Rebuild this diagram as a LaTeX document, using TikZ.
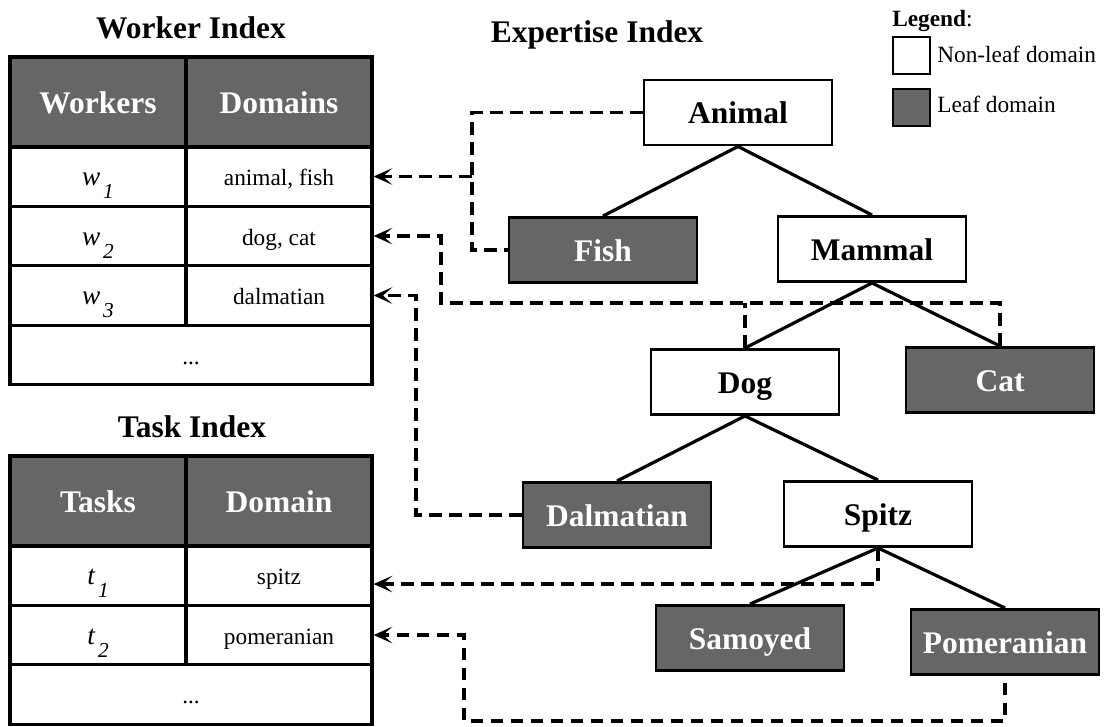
\documentclass[tikz,border=0pt]{standalone}
\usepackage{fontspec}
\setmainfont{Liberation Serif}
\usepackage{tikz}
\usetikzlibrary{arrows.meta,calc}
\usepackage{xcolor}
\definecolor{leafgray}{HTML}{666666}
\newcommand{\bigbf}{\fontsize{23.6}{28}\selectfont\bfseries}
\newcommand{\cellsize}{\fontsize{17.5}{21}\selectfont}
\newcommand{\idx}[2]{{\fontsize{20.5}{24}\selectfont\textit{#1}}\kern2pt\raisebox{-10pt}{\fontsize{16}{18}\selectfont\textit{#2}}}

\tikzset{
  grid/.style={draw, line width=2.5pt, inner sep=0pt, text height=13.5pt, text depth=0pt, minimum height=44.6pt, font=\cellsize},
  colone/.style={grid, minimum width=132pt},
  coltwo/.style={grid, minimum width=139.5pt},
  colfull/.style={grid, minimum width=271.5pt},
  header/.style={fill=leafgray, text=white, font=\bigbf, minimum height=67.5pt, text height=16.5pt},
  domainbox/.style={draw, line width=2.2pt, inner sep=0pt, minimum width=141pt, minimum height=48.75pt, text height=16.5pt, text depth=0pt, font=\bigbf},
  leafbox/.style={domainbox, fill=leafgray, text=white},
  edge/.style={line width=2.4pt},
  link/.style={line width=2.5pt, dash pattern=on 9.5pt off 5.5pt},
  linkto/.style={link, -{Stealth[length=14pt,width=12.5pt,inset=7pt]}},
  title/.style={font=\bigbf, anchor=base, inner sep=0pt}
}

\begin{document}
\begin{tikzpicture}[x=0.75pt, y=-0.75pt]
    \useasboundingbox (0,0) rectangle (1109,726);

    % worker index
    \node[title] (wtitle) at (191,38) {Worker Index};
    \node[colone, header] (whead1) at (98,102) {Workers};
    \node[coltwo, header] (whead2) at (279,102) {Domains};
    \node[colone] (w1) at (98,176.5) {\idx{w}{1}};
    \node[coltwo] (w1dom) at (279,176.5) {animal, fish};
    \node[colone] (w2) at (98,236) {\idx{w}{2}};
    \node[coltwo] (w2dom) at (279,236) {dog, cat};
    \node[colone] (w3) at (98,295.5) {\idx{w}{3}};
    \node[coltwo] (w3dom) at (279,295.5) {dalmatian};
    \node[colfull] (wmore) at (191,355) {...};

    % task index
    \node[title] (ttitle) at (192,437) {Task Index};
    \node[colone, header] (thead1) at (98,501) {Tasks};
    \node[coltwo, header] (thead2) at (279,501) {Domain};
    \node[colone] (t1) at (98,575.5) {\idx{t}{1}};
    \node[coltwo] (t1dom) at (279,575.5) {spitz};
    \node[colone] (t2) at (98,635) {\idx{t}{2}};
    \node[coltwo] (t2dom) at (279,635) {pomeranian};
    \node[colfull] (tmore) at (191,694.5) {...};

    % expertise index
    \node[title] (etitle) at (597,42) {Expertise Index};
    \node[domainbox] (animal) at (738,112.5) {Animal};
    \node[leafbox] (fish) at (603,250) {Fish};
    \node[domainbox] (mammal) at (872,249) {Mammal};
    \node[domainbox] (dog) at (745,382) {Dog};
    \node[leafbox] (cat) at (1000,380) {Cat};
    \node[leafbox] (dalmatian) at (617,515) {Dalmatian};
    \node[domainbox] (spitz) at (878,514) {Spitz};
    \node[leafbox] (samoyed) at (750,638) {Samoyed};
    \node[leafbox] (pomeranian) at (1005,642) {Pomeranian};

    \foreach \p/\c in {animal/fish, animal/mammal, mammal/dog, mammal/cat,
                       dog/dalmatian, dog/spitz, spitz/samoyed, spitz/pomeranian}
      \draw[edge] (\p.south) -- (\c.north);

    % links to the indexes
    \coordinate (busa) at (472,176.5);
    \draw[link] (animal.west) -| (busa) |- (fish.west);
    \draw[linkto] (busa) -- (w1dom.east);

    \coordinate (busb) at (441,303);
    \draw[link] (dog.north) -- (dog.north |- busb);
    \draw[linkto] (cat.north) |- (busb) |- (w2dom.east);

    \coordinate (busc) at (416,515);
    \draw[linkto] (dalmatian.west) -- (busc) |- (w3dom.east);

    \draw[linkto] (spitz.south) |- ([yshift=-6.4pt]t1dom.east);

    \coordinate (buse) at (464,721);
    \draw[linkto] ([yshift=-5pt]pomeranian.south) |- (buse) |- (t2dom.east);

    % legend
    \node[anchor=base west, inner sep=0pt, font=\cellsize] (legend) at (892,26) {\textbf{Legend}:};
    \node[draw, line width=2.2pt, minimum size=27.75pt, inner sep=0pt] (legnonleaf) at (911.5,55.5) {};
    \node[draw, line width=2.2pt, fill=leafgray, minimum size=27.75pt, inner sep=0pt] (legleaf) at (911.5,107.5) {};
    \node[anchor=base west, inner sep=0pt, font=\cellsize] (legnonleaftext) at (937,62) {Non-leaf domain};
    \node[anchor=base west, inner sep=0pt, font=\cellsize] (legleaftext) at (937,112) {Leaf domain};
\end{tikzpicture}
\end{document}
